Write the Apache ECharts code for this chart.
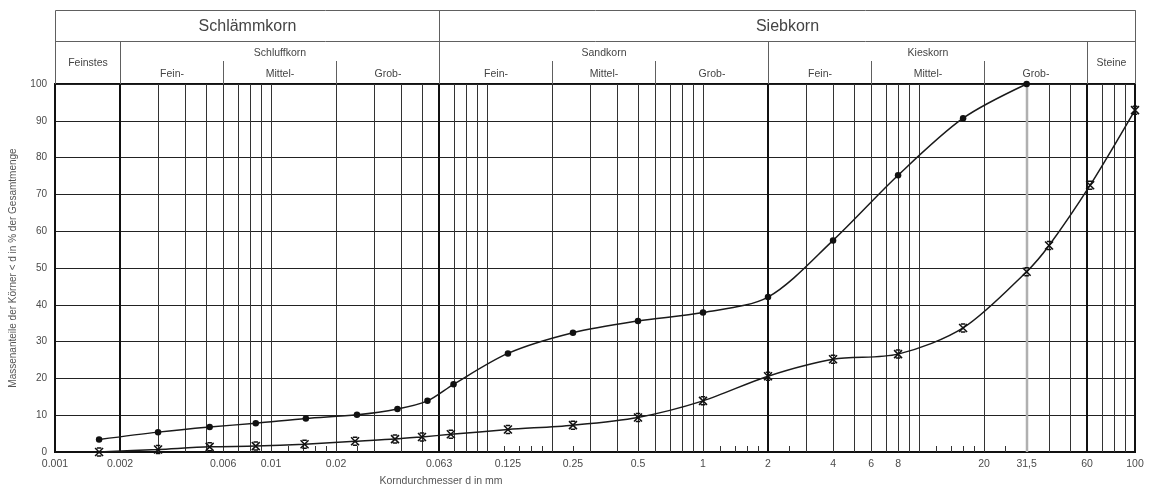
<!DOCTYPE html>
<html><head><meta charset="utf-8">
<script src="https://cdn.jsdelivr.net/npm/echarts@6/dist/echarts.min.js"></script>
<style>html,body{margin:0;padding:0;background:#fff}#c{width:1156px;height:491px}</style>
</head><body><div id="c"></div>
<script>
// ---- data ----
const axisMin = 0.001, axisMax = 100;
const sizesCircle = [0.0016, 0.003, 0.0052, 0.0085, 0.0145, 0.025, 0.0385, 0.053, 0.07, 0.125, 0.25, 0.5, 1, 2, 4, 8, 16, 31.5];
const passCircle  = [3.4, 5.4, 6.8, 7.8, 9.1, 10.1, 11.7, 13.9, 18.4, 26.8, 32.4, 35.6, 37.9, 42.1, 57.5, 75.2, 90.7, 100];
const sizesCross  = [0.0016, 0.003, 0.0052, 0.0085, 0.0143, 0.0245, 0.0375, 0.05, 0.068, 0.125, 0.25, 0.5, 1, 2, 4, 8, 16, 31.5, 40, 62, 100];
const passCross   = [0, 0.7, 1.4, 1.6, 2.1, 2.9, 3.5, 4.1, 4.8, 6.1, 7.3, 9.4, 13.9, 20.6, 25.2, 26.6, 33.7, 49.0, 56.1, 72.5, 92.9];

const tickValues = [0.001, 0.002, 0.006, 0.01, 0.02, 0.06, 0.125, 0.25, 0.5, 1, 2, 4, 6, 8, 20, 31.5, 60, 100];
const tickLabels = ['0.001','0.002','0.006','0.01','0.02','0.063','0.125','0.25','0.5','1','2','4','6','8','20','31,5','60','100'];

const thinLines  = [0.003,0.004,0.005,0.006,0.007,0.008,0.009,0.01, 0.02,0.03,0.04,0.05,0.07,0.08,0.09,0.1,
                    0.2,0.3,0.4,0.5,0.6,0.7,0.8,0.9,1, 3,4,5,6,7,8,9,10, 20,40,50,70,80,90];
const thickLines = [0.002, 0.06, 2, 60, 100];
const grayLines  = [31.5];
const shortTicks = [0.012,0.014,0.016,0.018,0.025, 0.12,0.14,0.16,0.18,0.25, 1.2,1.4,1.6,1.8,2.5, 12,14,16,18,25];

const mainGroups = [['Schlämmkorn', 0.001, 0.06], ['Siebkorn', 0.06, 100]];
const subGroups  = [['Feinstes', 0.001, 0.002, 1], ['Schluffkorn', 0.002, 0.06, 0], ['Sandkorn', 0.06, 2, 0], ['Kieskorn', 2, 60, 0], ['Steine', 60, 100, 1]];
const fractions  = [['Fein-',0.002,0.006],['Mittel-',0.006,0.02],['Grob-',0.02,0.06],
                    ['Fein-',0.06,0.2],['Mittel-',0.2,0.6],['Grob-',0.6,2],
                    ['Fein-',2,6],['Mittel-',6,20],['Grob-',20,60]];

const yTitle = 'Massenanteile der Körner < d in % der Gesamtmenge';
const xTitle = 'Korndurchmesser d in mm';

// ---- rendering ----
const FONT = '"Liberation Sans", Arial, sans-serif';
const vlineData = []
  .concat(thinLines.map(v => [v, 0]))
  .concat(shortTicks.map(v => [v, 3]))
  .concat(grayLines.map(v => [v, 2]))
  .concat(thickLines.map(v => [v, 1]));

const vStyles = {0: {stroke:'#333', w:1}, 1: {stroke:'#111', w:2}, 2: {stroke:'#b0b0b0', w:2.5}, 3: {stroke:'#333', w:1}};

function renderVLine(params, api) {
  const v = api.value(0), k = api.value(1);
  const top = api.coord([v, 100]), bot = api.coord([v, 0]);
  const s = vStyles[k];
  let x = Math.round(bot[0]) + (s.w === 1 ? 0.5 : 0);
  const y1 = k === 3 ? bot[1] - 6 : top[1];
  return {type:'line', shape:{x1:x, y1:y1, x2:x, y2:bot[1]}, style:{stroke:s.stroke, lineWidth:s.w}};
}

function renderTickLabel(params, api) {
  const i = api.value(2);
  const p = api.coord([api.value(0), 0]);
  return {type:'text', style:{text: tickLabels[i], x: p[0], y: p[1] + 12, fill:'#4a4a4a',
    font: '10.5px ' + FONT, textAlign:'center', textVerticalAlign:'middle', align:'center', verticalAlign:'middle'}};
}

function renderHeader(params, api) {
  const top = Math.round(api.coord([1, 100])[1]);
  const xOf = v => Math.round(api.coord([v, 100])[0]) + 0.5;
  const yTop = top - 73.5, yMid = top - 42.5, yFrac = top - 23;
  const col = '#606060';
  const line = (x1,y1,x2,y2) => ({type:'line', shape:{x1,y1,x2,y2}, style:{stroke:col, lineWidth:1}});
  const text = (t,x,y,size) => ({type:'text', style:{text:t, x:x, y:y, fill:'#444', font: size + 'px ' + FONT,
    textAlign:'center', textVerticalAlign:'middle', align:'center', verticalAlign:'middle'}});
  const L = xOf(axisMin), R = xOf(axisMax);
  const ch = [line(L, yTop, R, yTop), line(L, yMid, R, yMid), line(L, yTop, L, top), line(R, yTop, R, top)];
  mainGroups.forEach(g => {
    const a = xOf(g[1]), b = xOf(g[2]);
    ch.push(line(b, yTop, b, top));
    ch.push(text(g[0], (a + b) / 2, top - 57, 16));
  });
  subGroups.forEach(g => {
    const a = xOf(g[1]), b = xOf(g[2]);
    ch.push(line(b, yMid, b, top));
    ch.push(text(g[0], (a + b) / 2, g[3] ? top - 21 : top - 31, 10.5));
  });
  fractions.forEach((f, i) => {
    const a = xOf(f[1]), b = xOf(f[2]);
    if (i % 3 !== 2) ch.push(line(b, yFrac, b, top));
    ch.push(text(f[0], (a + b) / 2, top - 9.5, 10.5));
  });
  return {type:'group', children: ch};
}

const crossPath = 'path://M2.5,0L7.5,0M2.5,10L7.5,10M0.5,0L9.5,10M9.5,0L0.5,10';

const chart = echarts.init(document.getElementById('c'), null, {renderer:'canvas'});
chart.setOption({
  animation: false,
  backgroundColor: '#fff',
  title: {text: xTitle, left: 436, top: 471, textAlign: 'center',
    textStyle: {fontSize: 10.5, color: '#555', fontWeight: 'normal', fontFamily: FONT}},
  grid: {left: 53, right: 21, top: 84, bottom: 39, show: true, borderColor: '#111', borderWidth: 2, backgroundColor: 'transparent'},
  xAxis: {type: 'log', logBase: 10, min: axisMin, max: axisMax,
    axisLabel: {show: false}, axisTick: {show: false}, splitLine: {show: false}, minorSplitLine: {show:false},
    axisLine: {show: true, lineStyle: {color: '#111', width: 2}}},
  yAxis: {type: 'value', min: 0, max: 100, interval: 10,
    name: yTitle, nameLocation: 'middle', nameRotate: 90, nameGap: 37,
    nameTextStyle: {fontSize: 10, color: '#555', fontFamily: FONT},
    axisLabel: {fontSize: 10, color: '#4a4a4a', margin: 8, fontFamily: FONT},
    axisTick: {show: false},
    axisLine: {show: true, lineStyle: {color: '#111', width: 2}},
    splitLine: {show: true, lineStyle: {color: '#222', width: 1}}},
  series: [
    {type: 'custom', name: 'grid', renderItem: renderVLine, data: vlineData, encode: {x: 0, y: 1}, clip: false, silent: true, z: 1},
    {type: 'custom', name: 'ticks', renderItem: renderTickLabel, data: tickValues.map((v, i) => [v, 0, i]), encode: {x: 0, y: 1}, clip: false, silent: true, z: 2},
    {type: 'custom', name: 'header', renderItem: renderHeader, data: [[1, 50]], encode: {x: 0, y: 1}, clip: false, silent: true, z: 2},
    {type: 'line', name: 'Probe 1', data: sizesCircle.map((s, i) => [s, passCircle[i]]), smooth: 0.3, clip: false,
      symbol: 'circle', symbolSize: 6.5, lineStyle: {color: '#1a1a1a', width: 1.5}, itemStyle: {color: '#111'}, z: 5},
    {type: 'line', name: 'Probe 2', data: sizesCross.map((s, i) => [s, passCross[i]]), smooth: 0.3, clip: false,
      symbol: crossPath, symbolSize: 8, lineStyle: {color: '#1a1a1a', width: 1.5},
      itemStyle: {color: 'rgba(0,0,0,0)', borderColor: '#111', borderWidth: 1.5}, z: 5}
  ]
});
</script>
</body></html>
